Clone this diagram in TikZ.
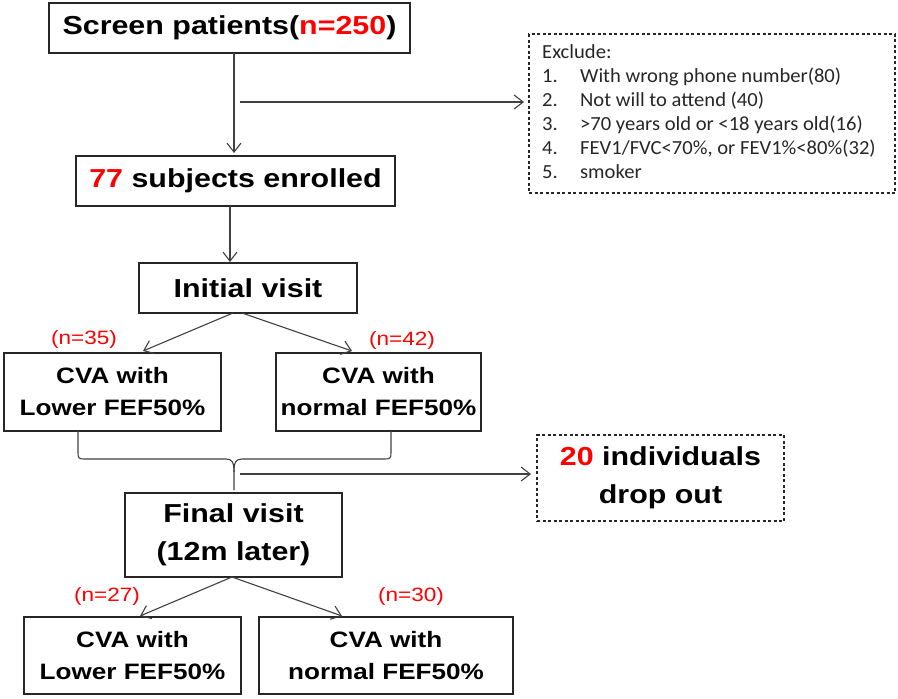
\documentclass[tikz,border=0pt]{standalone}
\usepackage{fontspec}
\usetikzlibrary{arrows.meta,calc}
\newfontfamily\arialS[FakeStretch=1.17]{Liberation Sans}
\newfontfamily\calS[FakeStretch=1.03]{Carlito}
\definecolor{lineg}{HTML}{404040}
\definecolor{nred}{HTML}{FF0000}
\newcommand{\rd}[1]{\textcolor{nred}{#1}}
\begin{document}
\begin{tikzpicture}[x=1pt,y=-1pt,
  box/.style={draw=black!85, line width=1.1pt, inner sep=0pt, align=center},
  dbox/.style={box, dash pattern=on 3pt off 2.5pt},
  bigtxt/.style={font=\arialS\bfseries\fontsize{26}{30}\selectfont},
  twotxt/.style={font=\arialS\bfseries\fontsize{22.3}{32}\selectfont},
  bigtwo/.style={font=\arialS\bfseries\fontsize{26}{38}\selectfont},
  nlab/.style={font=\arialS\fontsize{19.3}{22}\selectfont, text=nred, inner sep=0pt},
  extxt/.style={font=\calS\fontsize{20}{24}\selectfont, anchor=base west, inner sep=0pt, text=black!85},
  conn/.style={draw=lineg, line width=1.1pt},
  arr/.style={conn, -{Straight Barb[length=9pt,width=14pt,line width=1.1pt]}}
]
\useasboundingbox (0,0) rectangle (898,699);

% boxes
\node[box, bigtxt, minimum width=361pt, minimum height=50pt] (scr) at (229.5,28) {Screen patients(\rd{n=250})};
\node[box, bigtxt, minimum width=319pt, minimum height=50pt] (enr) at (235.5,181) {\rd{77} subjects enrolled};
\node[box, bigtxt, minimum width=218pt, minimum height=50pt] (init) at (248,288) {Initial visit};
\node[box, twotxt, minimum width=217pt, minimum height=78pt] (cvaL) at (112.5,392) {CVA with\\Lower FEF50\%};
\node[box, twotxt, minimum width=205pt, minimum height=78pt] (cvaR) at (378.5,392) {CVA with\\normal FEF50\%};
\node[box, bigtwo, minimum width=217pt, minimum height=84pt] (fin) at (233.5,535) {Final visit\\(12m later)};
\node[box, twotxt, minimum width=217pt, minimum height=77pt] (botL) at (132.5,655.5) {CVA with\\Lower FEF50\%};
\node[box, twotxt, minimum width=254pt, minimum height=77pt] (botR) at (386,655.5) {CVA with\\normal FEF50\%};
\node[dbox, bigtwo, minimum width=247pt, minimum height=86pt] (drop) at (660.5,478) {\rd{20} individuals\\drop out};
\node[dbox, minimum width=366pt, minimum height=159pt] (excl) at (712,113.5) {};

% exclude text
\node[extxt] (ex0) at (542,58) {Exclude:};
\node[extxt] (ex1) at (542,82) {\makebox[38pt][l]{1.}With wrong phone number(80)};
\node[extxt] (ex2) at (542,106) {\makebox[38pt][l]{2.}Not will to attend (40)};
\node[extxt] (ex3) at (542,130) {\makebox[38pt][l]{3.}>70 years old or <18 years old(16)};
\node[extxt] (ex4) at (542,154) {\makebox[38pt][l]{4.}FEV1/FVC<70\%, or FEV1\%<80\%(32)};
\node[extxt] (ex5) at (542,178) {\makebox[38pt][l]{5.}smoker};

% red labels
\node[nlab] (l35) at (84,340) {(n=35)};
\node[nlab] (l42) at (402,341) {(n=42)};
\node[nlab] (l27) at (107,596) {(n=27)};
\node[nlab] (l30) at (411,597) {(n=30)};

% connectors
\coordinate (s1) at (234,53);
\coordinate (s2) at (234,153);
\draw[arr] (s1) -- (s2);
\coordinate (h1) at (240,102);
\coordinate (h2) at (524,102);
\draw[arr] (h1) -- (h2);
\coordinate (e1) at (230,206);
\coordinate (e2) at (230,262);
\draw[arr] (e1) -- (e2);

\coordinate (i1) at (233,313);
\coordinate (i2) at (242,313);
\coordinate (cL) at (143,351);
\coordinate (cR) at (352,351);
\draw[arr] (i1) -- (cL);
\draw[arr] (i2) -- (cR);

% brace
\coordinate (bL) at (78,431);
\coordinate (bR) at (391,431);
\coordinate (bT) at (234,490);
\draw[conn] (bL) -- (78,453) .. controls (78,458) and (79,459) .. (84,459) -- (226,459)
   .. controls (232,459) and (234,462) .. (234,472) -- (bT);
\draw[conn] (bR) -- (391,453) .. controls (391,458) and (390,459) .. (385,459) -- (242,459)
   .. controls (236,459) and (234,462) .. (234,472);
\coordinate (d1) at (240,474);
\coordinate (d2) at (531,474);
\draw[arr] (d1) -- (d2);

\coordinate (f1) at (232,577);
\coordinate (fL) at (140,616);
\coordinate (fR) at (342,616);
\draw[arr] (f1) -- (fL);
\draw[arr] (f1) -- (fR);
\end{tikzpicture}
\end{document}
